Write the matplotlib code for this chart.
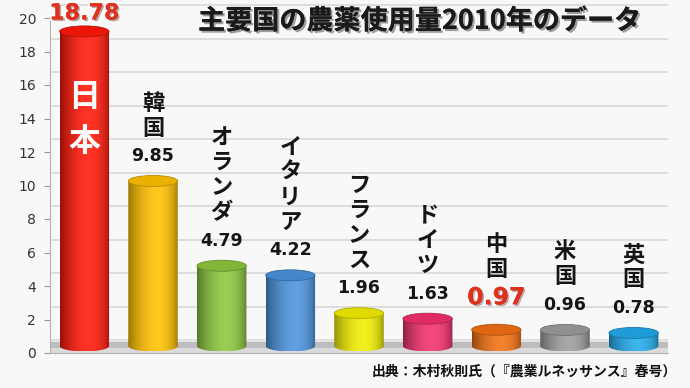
import numpy as np
import matplotlib
matplotlib.use('Agg')
import matplotlib.pyplot as plt
from matplotlib.patches import PathPatch, Ellipse, Rectangle
from matplotlib.path import Path
import matplotlib.transforms as mtransforms
import matplotlib.patheffects as pe
from matplotlib.colors import to_rgb

# ---------------- data ----------------
countries = ['日本', '韓国', 'オランダ', 'イタリア', 'フランス', 'ドイツ', '中国', '米国', '英国']
values = [18.78, 9.85, 4.79, 4.22, 1.96, 1.63, 0.97, 0.96, 0.78]
value_labels = ['18.78', '9.85', '4.79', '4.22', '1.96', '1.63', '0.97', '0.96', '0.78']
bar_colors = ['#ff1808', '#ffc000', '#8cc63e', '#4a92dc', '#f2ee00',
              '#f2306c', '#f27012', '#9c9c9c', '#22aaea']
highlighted = ['日本', '中国']
yticks = [0, 2, 4, 6, 8, 10, 12, 14, 16, 18, 20]
title = '主要国の農薬使用量2010年のデータ'
source = '出典：木村秋則氏（『農業ルネッサンス』春号）'

CJK = ['Noto Sans CJK JP', 'DejaVu Sans']
BG = '#f8f8f8'
RED = '#e0301e'

W, H = 690, 388
fig = plt.figure(figsize=(W / 100, H / 100), dpi=100, facecolor=BG)
ax_l, ax_b, ax_w, ax_h = 50, 35, 618, 335
ax = fig.add_axes([ax_l / W, ax_b / H, ax_w / W, ax_h / H])
ax.set_facecolor(BG)
n = len(countries)
ax.set_xlim(-0.5, n - 0.5)
ax.set_ylim(yticks[0], yticks[-1])
px_per_unit = ax_h / (yticks[-1] - yticks[0])
PT = 100 / 72.0  # px per point

# back-wall gridlines (shifted up as in the 3D chart)
grid_off = mtransforms.ScaledTranslation(2 / 100, 13 / 100, fig.dpi_scale_trans)
for t in yticks:
    ax.plot([0.0, 0.995], [t, t], transform=ax.get_yaxis_transform() + grid_off,
            color='#d6d6d6', lw=1.1, zorder=0.5, clip_on=False)

# floor
floor_h = 13 / ax_h
ax.add_patch(Rectangle((0, 0), 1, floor_h, transform=ax.transAxes,
                       facecolor='#bdbdbd', edgecolor='none', zorder=1))
ax.add_patch(Rectangle((0, 0), 1, floor_h * 0.35, transform=ax.transAxes,
                       facecolor='#dadada', edgecolor='none', zorder=1.1))
ax.add_patch(Rectangle((0, floor_h * 0.88), 1, floor_h * 0.12, transform=ax.transAxes,
                       facecolor='#e4e4e4', edgecolor='none', zorder=1.1))

# cylinders
bar_off = mtransforms.ScaledTranslation(0, 7 / 100, fig.dpi_scale_trans)
tr = ax.transData + bar_off
w = 0.72
eh = 11 / px_per_unit
N = 80
tt = np.linspace(0, 1, N)
g = np.sin(np.pi * tt ** 1.3) ** 0.6

for i, (name, v, col) in enumerate(zip(countries, values, bar_colors)):
    base = np.array(to_rgb(col))
    dark = base * 0.6
    light = np.clip(base * 1.0 + (1 - base) * 0.12, 0, 1)
    grad = dark[None, :] * (1 - g[:, None]) + light[None, :] * g[:, None]
    img = np.tile(grad[None, :, :], (2, 1, 1))

    theta = np.linspace(np.pi, 2 * np.pi, 40)
    xs = i + (w / 2) * np.cos(theta)
    ys = (eh / 2) * np.sin(theta)
    verts = [(i - w / 2, v)] + list(zip(xs, ys)) + [(i + w / 2, v), (i - w / 2, v)]
    codes = [Path.MOVETO] + [Path.LINETO] * (len(verts) - 2) + [Path.CLOSEPOLY]
    body = PathPatch(Path(verts, codes), transform=tr, facecolor='none',
                     edgecolor='none', zorder=2)
    ax.add_patch(body)
    im = ax.imshow(img, extent=(i - w / 2, i + w / 2, -eh / 2, v), aspect='auto',
                   interpolation='bilinear', zorder=2)
    im.set_transform(tr)
    im.set_clip_path(body)

    top = Ellipse((i, v), w, eh, transform=tr, facecolor=base * 0.92,
                  edgecolor=base * 0.72, lw=0.6, zorder=3)
    ax.add_patch(top)

ax.set_xlim(-0.5, n - 0.5)
ax.set_ylim(yticks[0], yticks[-1])

# labels
for i, (name, v, lab) in enumerate(zip(countries, values, value_labels)):
    red = name in highlighted
    if i == 0:
        ax.annotate(lab, (i, v), xytext=(0, 25 / PT), textcoords='offset points',
                    ha='center', va='center', fontsize=16, weight='bold', color=RED,
                    family='DejaVu Sans', annotation_clip=False, zorder=6,
                    path_effects=[pe.withStroke(linewidth=2.5, foreground='white'),
                                  pe.withSimplePatchShadow(offset=(1.2, -1.2), alpha=0.35)])
        for k, ch in enumerate(name):
            ax.annotate(ch, (i, v), xytext=(0, -(59 + 45 * k) / PT), textcoords='offset points',
                        ha='center', va='center', fontsize=23, weight='bold', color='white',
                        family=CJK, annotation_clip=False, zorder=6)
        continue
    if red:
        vo = 39.5
        ax.annotate(lab, (i, v), xytext=(0, vo / PT), textcoords='offset points',
                    ha='center', va='center', fontsize=17, weight='bold', color=RED,
                    family='DejaVu Sans', annotation_clip=False, zorder=6,
                    path_effects=[pe.withStroke(linewidth=2.5, foreground='white'),
                                  pe.withSimplePatchShadow(offset=(1.2, -1.2), alpha=0.35)])
    else:
        vo = 32
        ax.annotate(lab, (i, v), xytext=(0, vo / PT), textcoords='offset points',
                    ha='center', va='center', fontsize=12.5, weight='bold', color='#151515',
                    family='DejaVu Sans', annotation_clip=False, zorder=6)
    for k, ch in enumerate(reversed(name)):
        ax.annotate(ch, (i, v), xytext=(0, (vo + 28 + 25 * k) / PT), textcoords='offset points',
                    ha='center', va='center', fontsize=16, weight='bold', color='#151515',
                    family=CJK, annotation_clip=False, zorder=6)

# axes styling
ax.set_xticks([])
ax.set_yticks(yticks)
ax.tick_params(axis='y', length=4, width=0.8, color='#999999', labelsize=10,
               labelcolor='#333333', pad=6)
for s in ['top', 'right']:
    ax.spines[s].set_visible(False)
ax.spines['left'].set_color('#b0b0b0')
ax.spines['bottom'].set_color('#b0b0b0')

# title and source
fig.text(420 / W, 1 - 21 / H, title, ha='center', va='center', fontsize=19.5,
         weight='bold', color='#1a1a1a', family=CJK,
         path_effects=[pe.withSimplePatchShadow(offset=(1.5, -1.5), shadow_rgbFace='#777777', alpha=0.7),
                       pe.Normal()])
fig.text(677 / W, 1 - 372 / H, source, ha='right', va='center', fontsize=10,
         weight='bold', color='#111111', family=CJK)

fig.savefig('out.png', dpi=100, facecolor=BG)
